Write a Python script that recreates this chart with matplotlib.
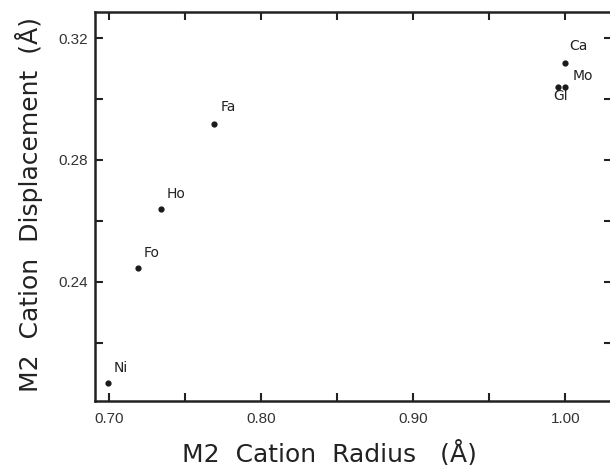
import numpy as np
import matplotlib.pyplot as plt

# M2 cation radius vs displacement
names = ['Ni', 'Fo', 'Ho', 'Fa', 'Ca', 'Mo', 'Gl']
radius = [0.699, 0.719, 0.734, 0.769, 1.000, 1.000, 0.995]
displacement = [0.2069, 0.2446, 0.2639, 0.2918, 0.3118, 0.3040, 0.3040]
# label offsets in points
offsets = [(4, 6), (4, 6), (4, 6), (5, 7), (3, 7), (5, 3), (-3, -12)]

xticks = [0.70, 0.80, 0.90, 1.00]
xticklabels = ['0.70', '0.80', '0.90', '1.00']
yticks = [0.24, 0.28, 0.32]
yticklabels = ['0.24', '0.28', '0.32']

fig = plt.figure(figsize=(6.1, 4.65), dpi=100)
ax = fig.add_axes([0.156, 0.138, 0.848, 0.836])

ax.scatter(radius, displacement, s=12, color='#1a1a1a', zorder=3)

for n, x, y, off in zip(names, radius, displacement, offsets):
    ax.annotate(n, (x, y), xytext=off, textcoords='offset points',
                fontsize=10, family='DejaVu Sans', color='#222222',
                ha='left', va='bottom')

# little connector from the Gl point down to its label
ax.annotate('', xy=(radius[6], displacement[6]), xytext=(0, -5),
            textcoords='offset points',
            arrowprops=dict(arrowstyle='-', color='#222222', lw=1))

ax.set_xlim(0.6908, 1.0309)
ax.set_ylim(0.201, 0.3285)

ax.set_xticks(xticks)
ax.set_xticklabels(xticklabels, family='Liberation Sans', fontsize=11, color='#333333')
ax.set_xticks([0.75, 0.85, 0.95], minor=True)
ax.set_yticks(yticks)
ax.set_yticklabels(yticklabels, family='Liberation Sans', fontsize=11, color='#333333')
ax.set_yticks([0.22, 0.26, 0.30], minor=True)

ax.tick_params(which='both', direction='in', top=True, right=True,
               length=6, width=1.5, color='#222222')
ax.tick_params(axis='x', pad=8)
ax.tick_params(axis='y', pad=5)

for s in ax.spines.values():
    s.set_linewidth(1.8)
    s.set_color('#222222')

fig.text(0.54, 0.008, 'M2  Cation  Radius   (Å)', fontsize=18,
         family='DejaVu Sans', color='#222222', ha='center', va='baseline')
fig.text(0.048, 0.56, 'M2  Cation  Displacement  (Å)', fontsize=18,
         family='DejaVu Sans', color='#222222', rotation=90,
         ha='center', va='center')

fig.savefig('out.png', dpi=100)
